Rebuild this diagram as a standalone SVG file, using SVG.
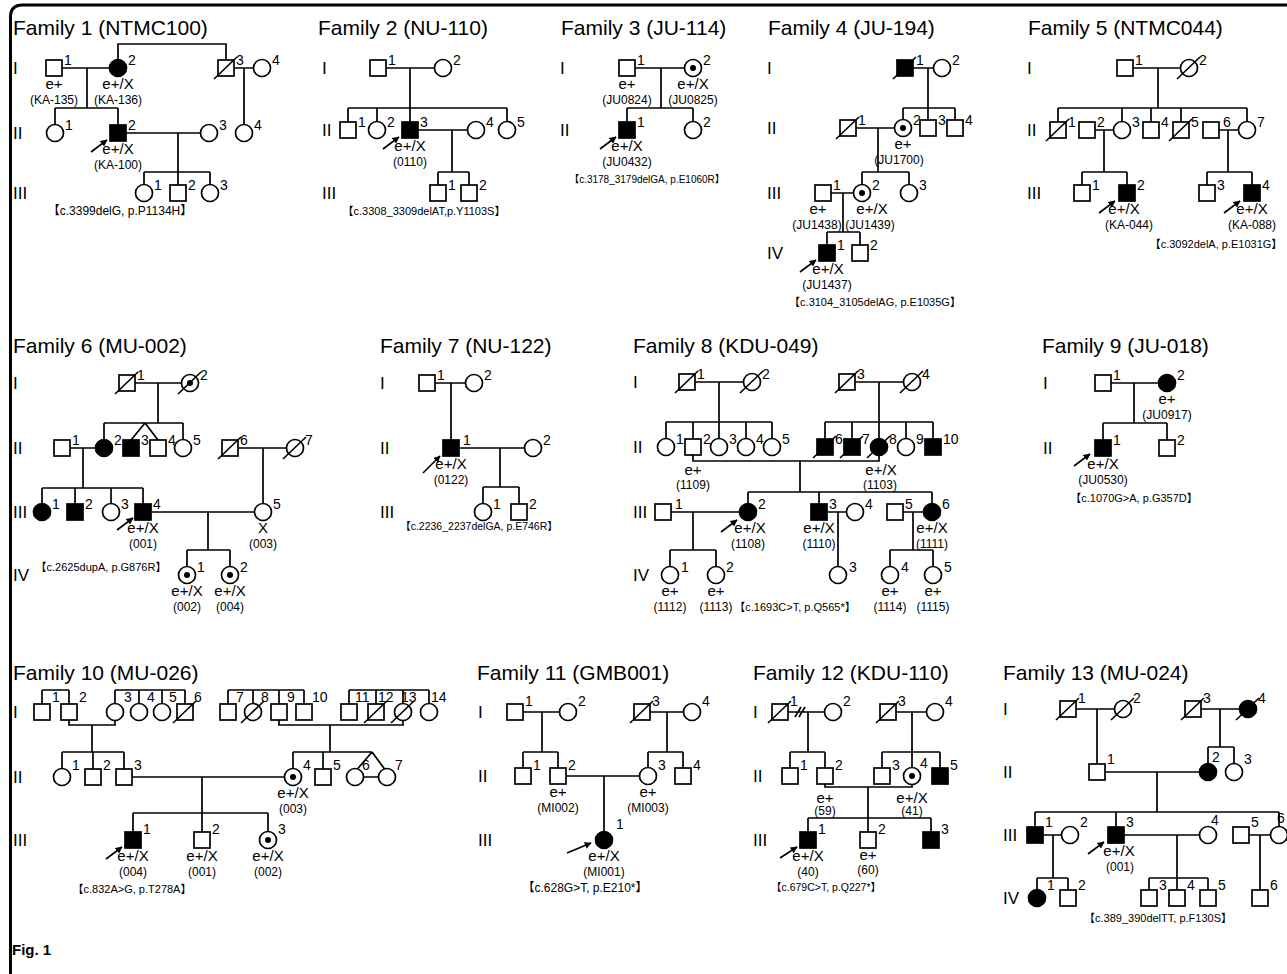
<svg xmlns="http://www.w3.org/2000/svg" xmlns:xlink="http://www.w3.org/1999/xlink" width="1287" height="974" viewBox="0 0 1287 974">
<style>
.o{fill:#fff;stroke:#000;stroke-width:1.7}
.a{fill:#000;stroke:#000;stroke-width:1.7}
.ln{fill:none;stroke:#000;stroke-width:1.7}
.ar{fill:none;stroke:#000;stroke-width:1.6;marker-end:url(#ah)}
text{font-family:"Liberation Sans",Arial,sans-serif;fill:#000}
.ti{font-size:21px}
.g{font-size:17px}
.n{font-size:14px}
.l{font-size:15px;text-anchor:middle}
.id{font-size:12px;text-anchor:middle}
.mu{font-size:11px;text-anchor:middle;font-family:"Liberation Sans","Noto Sans CJK SC",sans-serif}
.fig{font-size:15px;font-weight:bold}
</style>
<defs>
<rect id="sq" x="-8" y="-8" width="16" height="16"/>
<circle id="ci" r="8.5"/>
<g id="cc"><circle r="8.5" fill="#fff" stroke="#000" stroke-width="1.7"/><circle r="3" fill="#000"/></g>
<line id="dz" x1="-12" y1="11" x2="11" y2="-11" stroke="#000" stroke-width="1.6"/>
<marker id="ah" viewBox="0 0 10 10" refX="9" refY="5" markerWidth="7" markerHeight="7" markerUnits="userSpaceOnUse" orient="auto"><path d="M0,0 L10,5 L0,10 z" fill="#000"/></marker>
</defs>
<rect width="1287" height="974" fill="#fff"/>
<path d="M10.5 974 V17 Q10.5 5 22.5 5 H1287" fill="none" stroke="#000" stroke-width="3"/>

<g id="connectors" class="ln">
<g id="f1-lines"><path d="M62 68H109.5M87 68V108M55 108H118M55 108V124.5M118 108V125M118 59.5V44H226V60M234 68H253.5M244 68V124.5M126 133H200.5M178 133V172M144 172H210M144 172V184.5M178 172V185M210 172V184.5"/></g>
<g id="f2-lines"><path d="M386 68H434.5M410 68V108M348 108H507M348 108V122M377 108V121.5M410 108V122M507 108V121.5M418 130H467.5M452 130V172M438 172H469M438 172V185M469 172V185"/></g>
<g id="f3-lines"><path d="M635 68H684.5M661 68V108M627 108H693M627 108V122M693 108V121.5"/></g>
<g id="f4-lines"><path d="M913 68H933.5M928 68V108M903 108H955M903 108V119.5M928 108V120M955 108V120M856 128H894.5M878 128V172M862 172H909M862 172V184.5M909 172V184.5M831 193H853.5M843 193V232M827 232H860M827 232V245M860 232V245"/></g>
<g id="f5-lines"><path d="M1133 68H1180.5M1158 68V108M1058 108H1247M1058 108V122M1122 108V121.5M1151 108V122M1181 108V122M1247 108V121.5M1095 130H1113.5M1104 130V172M1082 172H1127M1082 172V185M1127 172V185M1219 130H1238.5M1228 130V172M1207 172H1252M1207 172V185M1252 172V185"/></g>
<g id="f6-lines"><path d="M135 383H181.5M158 383V423M104 423H183M104 423V439.5M183 423V439.5M145 423L131 440M145 423L158 440M70 448H95.5M83 448V488M42 488H143M42 488V503.5M75 488V504M111 488V503.5M143 488V504M238 448H286.5M263 448V503.5M151 512H254.5M208 512V550M187 550H230M187 550V566.5M230 550V566.5"/></g>
<g id="f7-lines"><path d="M435 383H465.5M451 383V440M459 448H524.5M500 448V487M483 487H519M483 487V503.5M519 487V504"/></g>
<g id="f8-lines"><path d="M695 382H743.5M719 382V422M666 422H772M666 422V438.5M693 422V439M719 422V438.5M746 422V438.5M772 422V438.5M855 382H903.5M879 382V422M825 422H933M825 422V439M852 422V439M879 422V438.5M906 422V438.5M933 422V439M693 455V461H879V455.5M800 461V492M748 492H932M748 492V503.5M819 492V504M932 492V503.5M671 512H739.5M693 512V550M670 550H716M670 550V566.5M716 550V566.5M827 512H846.5M838 512V566.5M903 512H923.5M913 512V550M890 550H933M890 550V566.5M933 550V566.5"/></g>
<g id="f9-lines"><path d="M1111 383H1158.5M1134 383V423M1103 423H1167M1103 423V440M1167 423V440"/></g>
<g id="f10-lines"><path d="M42 690H69M42 690V704M69 690V704M115 690H185M115 690V703.5M139 690V703.5M162 690V703.5M185 690V704M228 690H304M228 690V704M253 690V703.5M279 690V704M304 690V704M349 690H429M349 690V704M376 690V704M403 690V703.5M429 690V703.5M69 720V725H115V720.5M92 725V752M279 720V725H403V720.5M330 725V752M62 752H124M62 752V768.5M93 752V769M124 752V769M293 752H372M293 752V768.5M323 752V769M372 752L357 769.5M372 752L385 769.5M363.5 777H378.5M132 777H284.5M202 777V813M133 813H268M133 813V832M202 813V832M268 813V831.5"/></g>
<g id="f11-lines"><path d="M523 712H559.5M542 712V752M523 752H558M523 752V768M558 752V768M650 712H683.5M667 712V752M648 752H683M648 752V767.5M683 752V768M566 776H639.5M604 776V831.5"/></g>
<g id="f12-lines"><path d="M788 712H824.5M795 717L801 707M799 717L805 707M808 712V752M790 752H825M790 752V768M825 752V768M896 712H926.5M912 712V752M882 752H940M882 752V768M912 752V767.5M940 752V768M825 784V787H912V784.5M868 787V818M808 818H931M808 818V832M868 818V832M931 818V832"/></g>
<g id="f13-lines"><path d="M1076 709H1114.5M1097 709V764M1201 709H1239.5M1220 709V747M1208 747H1234M1208 747V763.5M1234 747V763.5M1105 772H1199.5M1157 772V812M1035 812H1279M1035 812V827M1116 812V827M1279 812V826.5M1043 835H1061.5M1053 835V878M1037 878H1068M1037 878V889.5M1068 878V890M1124 835H1199.5M1177 835V878M1149 878H1208M1149 878V890M1177 878V890M1208 878V890M1249 835H1270.5M1260 835V890"/></g>
</g>

<g id="family1">
<text class="ti" x="13" y="35">Family 1 (NTMC100)</text>
<text class="g" x="13" y="74">I</text><text class="g" x="13" y="139">II</text><text class="g" x="13" y="199">III</text>
<g id="f1-I1"><use href="#sq" class="o" x="54" y="68"/><text class="n" x="64" y="65">1</text><text class="l" x="54" y="89">e+</text><text class="id" x="54" y="104">(KA-135)</text></g>
<g id="f1-I2"><use href="#ci" class="a" x="118" y="68"/><text class="n" x="128" y="65">2</text><text class="l" x="118" y="89">e+/X</text><text class="id" x="118" y="104">(KA-136)</text></g>
<g id="f1-I3"><use href="#sq" class="o" x="226" y="68"/><use href="#dz" x="226" y="68"/><text class="n" x="236" y="65">3</text></g>
<g id="f1-I4"><use href="#ci" class="o" x="262" y="68"/><text class="n" x="272" y="65">4</text></g>
<g id="f1-II1"><use href="#ci" class="o" x="55" y="133"/><text class="n" x="65" y="130">1</text></g>
<g id="f1-II2"><use href="#sq" class="a" x="118" y="133"/><text class="n" x="128" y="130">2</text><path class="ar" d="M91 152L107 140"/><text class="l" x="118" y="154">e+/X</text><text class="id" x="118" y="169">(KA-100)</text></g>
<g id="f1-II3"><use href="#ci" class="o" x="209" y="133"/><text class="n" x="219" y="130">3</text></g>
<g id="f1-II4"><use href="#ci" class="o" x="244" y="133"/><text class="n" x="254" y="130">4</text></g>
<g id="f1-III1"><use href="#ci" class="o" x="144" y="193"/><text class="n" x="154" y="190">1</text></g>
<g id="f1-III2"><use href="#sq" class="o" x="178" y="193"/><text class="n" x="188" y="190">2</text></g>
<g id="f1-III3"><use href="#ci" class="o" x="210" y="193"/><text class="n" x="220" y="190">3</text></g>
<text class="mu" style="font-size:12px" x="120" y="215">【c.3399delG, p.P1134H】</text>
</g>

<g id="family2">
<text class="ti" x="318" y="35">Family 2 (NU-110)</text>
<text class="g" x="322" y="74">I</text><text class="g" x="322" y="136">II</text><text class="g" x="322" y="199">III</text>
<g id="f2-I1"><use href="#sq" class="o" x="378" y="68"/><text class="n" x="388" y="65">1</text></g>
<g id="f2-I2"><use href="#ci" class="o" x="443" y="68"/><text class="n" x="453" y="65">2</text></g>
<g id="f2-II1"><use href="#sq" class="o" x="348" y="130"/><text class="n" x="358" y="127">1</text></g>
<g id="f2-II2"><use href="#ci" class="o" x="377" y="130"/><text class="n" x="387" y="127">2</text></g>
<g id="f2-II3"><use href="#sq" class="a" x="410" y="130"/><text class="n" x="420" y="127">3</text><path class="ar" d="M383 149L399 137"/><text class="l" x="410" y="151">e+/X</text><text class="id" x="410" y="166">(0110)</text></g>
<g id="f2-II4"><use href="#ci" class="o" x="476" y="130"/><text class="n" x="486" y="127">4</text></g>
<g id="f2-II5"><use href="#ci" class="o" x="507" y="130"/><text class="n" x="517" y="127">5</text></g>
<g id="f2-III1"><use href="#sq" class="o" x="438" y="193"/><text class="n" x="448" y="190">1</text></g>
<g id="f2-III2"><use href="#sq" class="o" x="469" y="193"/><text class="n" x="479" y="190">2</text></g>
<text class="mu" x="424" y="215">【c.3308_3309delAT,p.Y1103S】</text>
</g>

<g id="family3">
<text class="ti" x="561" y="35">Family 3 (JU-114)</text>
<text class="g" x="560" y="74">I</text><text class="g" x="560" y="136">II</text>
<g id="f3-I1"><use href="#sq" class="o" x="627" y="68"/><text class="n" x="637" y="65">1</text><text class="l" x="627" y="89">e+</text><text class="id" x="627" y="104">(JU0824)</text></g>
<g id="f3-I2"><use href="#cc" x="693" y="68"/><text class="n" x="703" y="65">2</text><text class="l" x="693" y="89">e+/X</text><text class="id" x="693" y="104">(JU0825)</text></g>
<g id="f3-II1"><use href="#sq" class="a" x="627" y="130"/><text class="n" x="637" y="127">1</text><path class="ar" d="M600 149L616 137"/><text class="l" x="627" y="151">e+/X</text><text class="id" x="627" y="166">(JU0432)</text></g>
<g id="f3-II2"><use href="#ci" class="o" x="693" y="130"/><text class="n" x="703" y="127">2</text></g>
<text class="mu" style="font-size:10px" x="647" y="183">【c.3178_3179delGA, p.E1060R】</text>
</g>

<g id="family4">
<text class="ti" x="768" y="35">Family 4 (JU-194)</text>
<text class="g" x="767" y="74">I</text><text class="g" x="767" y="134">II</text><text class="g" x="767" y="199">III</text><text class="g" x="767" y="259">IV</text>
<g id="f4-I1"><use href="#sq" class="a" x="905" y="68"/><use href="#dz" x="905" y="68"/><text class="n" x="916" y="65">1</text></g>
<g id="f4-I2"><use href="#ci" class="o" x="942" y="68"/><text class="n" x="952" y="65">2</text></g>
<g id="f4-II1"><use href="#sq" class="o" x="848" y="128"/><use href="#dz" x="848" y="128"/><text class="n" x="858" y="125">1</text></g>
<g id="f4-II2"><use href="#cc" x="903" y="128"/><text class="n" x="913" y="125">2</text><text class="l" x="903" y="149">e+</text><text class="id" x="899" y="164">(JU1700)</text></g>
<g id="f4-II3"><use href="#sq" class="o" x="928" y="128"/><text class="n" x="938" y="125">3</text></g>
<g id="f4-II4"><use href="#sq" class="o" x="955" y="128"/><text class="n" x="965" y="125">4</text></g>
<g id="f4-III1"><use href="#sq" class="o" x="823" y="193"/><text class="n" x="833" y="190">1</text><text class="l" x="818" y="214">e+</text><text class="id" x="817" y="229">(JU1438)</text></g>
<g id="f4-III2"><use href="#cc" x="862" y="193"/><text class="n" x="872" y="190">2</text><text class="l" x="872" y="214">e+/X</text><text class="id" x="870" y="229">(JU1439)</text></g>
<g id="f4-III3"><use href="#ci" class="o" x="909" y="193"/><text class="n" x="919" y="190">3</text></g>
<g id="f4-IV1"><use href="#sq" class="a" x="827" y="253"/><text class="n" x="837" y="250">1</text><path class="ar" d="M800 272L816 260"/><text class="l" x="828" y="274">e+/X</text><text class="id" x="827" y="289">(JU1437)</text></g>
<g id="f4-IV2"><use href="#sq" class="o" x="860" y="253"/><text class="n" x="870" y="250">2</text></g>
<text class="mu" x="875" y="306">【c.3104_3105delAG, p.E1035G】</text>
</g>

<g id="family5">
<text class="ti" x="1028" y="35">Family 5 (NTMC044)</text>
<text class="g" x="1027" y="74">I</text><text class="g" x="1027" y="136">II</text><text class="g" x="1027" y="199">III</text>
<g id="f5-I1"><use href="#sq" class="o" x="1125" y="68"/><text class="n" x="1135" y="65">1</text></g>
<g id="f5-I2"><use href="#ci" class="o" x="1189" y="68"/><use href="#dz" x="1189" y="68"/><text class="n" x="1199" y="65">2</text></g>
<g id="f5-II1"><use href="#sq" class="o" x="1058" y="130"/><use href="#dz" x="1058" y="130"/><text class="n" x="1068" y="127">1</text></g>
<g id="f5-II2"><use href="#sq" class="o" x="1087" y="130"/><text class="n" x="1097" y="127">2</text></g>
<g id="f5-II3"><use href="#ci" class="o" x="1122" y="130"/><text class="n" x="1132" y="127">3</text></g>
<g id="f5-II4"><use href="#sq" class="o" x="1151" y="130"/><text class="n" x="1161" y="127">4</text></g>
<g id="f5-II5"><use href="#sq" class="o" x="1181" y="130"/><use href="#dz" x="1181" y="130"/><text class="n" x="1191" y="127">5</text></g>
<g id="f5-II6"><use href="#sq" class="o" x="1211" y="130"/><text class="n" x="1223" y="127">6</text></g>
<g id="f5-II7"><use href="#ci" class="o" x="1247" y="130"/><text class="n" x="1257" y="127">7</text></g>
<g id="f5-III1"><use href="#sq" class="o" x="1082" y="193"/><text class="n" x="1092" y="190">1</text></g>
<g id="f5-III2"><use href="#sq" class="a" x="1127" y="193"/><text class="n" x="1137" y="190">2</text><path class="ar" d="M1099 213L1115 201"/><text class="l" x="1124" y="214">e+/X</text><text class="id" x="1129" y="229">(KA-044)</text></g>
<g id="f5-III3"><use href="#sq" class="o" x="1207" y="193"/><text class="n" x="1217" y="190">3</text></g>
<g id="f5-III4"><use href="#sq" class="a" x="1252" y="193"/><text class="n" x="1262" y="190">4</text><path class="ar" d="M1224 213L1240 201"/><text class="l" x="1252" y="214">e+/X</text><text class="id" x="1252" y="229">(KA-088)</text></g>
<text class="mu" x="1216" y="248">【c.3092delA, p.E1031G】</text>
</g>

<g id="family6">
<text class="ti" x="13" y="353">Family 6 (MU-002)</text>
<text class="g" x="13" y="389">I</text><text class="g" x="13" y="454">II</text><text class="g" x="13" y="518">III</text><text class="g" x="13" y="581">IV</text>
<g id="f6-I1"><use href="#sq" class="o" x="127" y="383"/><use href="#dz" x="127" y="383"/><text class="n" x="137" y="380">1</text></g>
<g id="f6-I2"><use href="#cc" x="190" y="383"/><use href="#dz" x="190" y="383"/><text class="n" x="200" y="380">2</text></g>
<g id="f6-II1"><use href="#sq" class="o" x="62" y="448"/><text class="n" x="72" y="445">1</text></g>
<g id="f6-II2"><use href="#ci" class="a" x="104" y="448"/><text class="n" x="114" y="445">2</text></g>
<g id="f6-II3"><use href="#sq" class="a" x="131" y="448"/><text class="n" x="141" y="445">3</text></g>
<g id="f6-II4"><use href="#sq" class="o" x="158" y="448"/><text class="n" x="168" y="445">4</text></g>
<g id="f6-II5"><use href="#ci" class="o" x="183" y="448"/><text class="n" x="193" y="445">5</text></g>
<g id="f6-II6"><use href="#sq" class="o" x="230" y="448"/><use href="#dz" x="230" y="448"/><text class="n" x="240" y="445">6</text></g>
<g id="f6-II7"><use href="#ci" class="o" x="295" y="448"/><use href="#dz" x="295" y="448"/><text class="n" x="305" y="445">7</text></g>
<g id="f6-III1"><use href="#ci" class="a" x="42" y="512"/><text class="n" x="52" y="509">1</text></g>
<g id="f6-III2"><use href="#sq" class="a" x="75" y="512"/><text class="n" x="85" y="509">2</text></g>
<g id="f6-III3"><use href="#ci" class="o" x="111" y="512"/><text class="n" x="121" y="509">3</text></g>
<g id="f6-III4"><use href="#sq" class="a" x="143" y="512"/><text class="n" x="153" y="509">4</text><path class="ar" d="M117 530L133 518"/><text class="l" x="143" y="533">e+/X</text><text class="id" x="143" y="548">(001)</text></g>
<g id="f6-III5"><use href="#ci" class="o" x="263" y="512"/><text class="n" x="273" y="509">5</text><text class="l" x="263" y="533">X</text><text class="id" x="263" y="548">(003)</text></g>
<g id="f6-IV1"><use href="#cc" x="187" y="575"/><text class="n" x="197" y="572">1</text><text class="l" x="187" y="596">e+/X</text><text class="id" x="187" y="611">(002)</text></g>
<g id="f6-IV2"><use href="#cc" x="230" y="575"/><text class="n" x="240" y="572">2</text><text class="l" x="230" y="596">e+/X</text><text class="id" x="230" y="611">(004)</text></g>
<text class="mu" x="101" y="571">【c.2625dupA, p.G876R】</text>
</g>

<g id="family7">
<text class="ti" x="380" y="353">Family 7 (NU-122)</text>
<text class="g" x="380" y="389">I</text><text class="g" x="380" y="454">II</text><text class="g" x="380" y="518">III</text>
<g id="f7-I1"><use href="#sq" class="o" x="427" y="383"/><text class="n" x="437" y="380">1</text></g>
<g id="f7-I2"><use href="#ci" class="o" x="474" y="383"/><text class="n" x="484" y="380">2</text></g>
<g id="f7-II1"><use href="#sq" class="a" x="451" y="448"/><text class="n" x="463" y="445">1</text><path class="ar" d="M423 473L440 456"/><text class="l" x="451" y="469">e+/X</text><text class="id" x="451" y="484">(0122)</text></g>
<g id="f7-II2"><use href="#ci" class="o" x="533" y="448"/><text class="n" x="543" y="445">2</text></g>
<g id="f7-III1"><use href="#ci" class="o" x="483" y="512"/><text class="n" x="493" y="509">1</text></g>
<g id="f7-III2"><use href="#sq" class="o" x="519" y="512"/><text class="n" x="529" y="509">2</text></g>
<text class="mu" style="font-size:10.5px" x="479" y="530">【c.2236_2237delGA, p.E746R】</text>
</g>

<g id="family8">
<text class="ti" x="633" y="353">Family 8 (KDU-049)</text>
<text class="g" x="633" y="388">I</text><text class="g" x="633" y="453">II</text><text class="g" x="633" y="518">III</text><text class="g" x="633" y="581">IV</text>
<g id="f8-I1"><use href="#sq" class="o" x="687" y="382"/><use href="#dz" x="687" y="382"/><text class="n" x="697" y="379">1</text></g>
<g id="f8-I2"><use href="#ci" class="o" x="752" y="382"/><use href="#dz" x="752" y="382"/><text class="n" x="762" y="379">2</text></g>
<g id="f8-I3"><use href="#sq" class="o" x="847" y="382"/><use href="#dz" x="847" y="382"/><text class="n" x="857" y="379">3</text></g>
<g id="f8-I4"><use href="#ci" class="o" x="912" y="382"/><use href="#dz" x="912" y="382"/><text class="n" x="922" y="379">4</text></g>
<g id="f8-II1"><use href="#ci" class="o" x="666" y="447"/><text class="n" x="676" y="444">1</text></g>
<g id="f8-II2"><use href="#sq" class="o" x="693" y="447"/><text class="n" x="703" y="444">2</text><text class="l" x="693" y="475">e+</text><text class="id" x="693" y="489">(1109)</text></g>
<g id="f8-II3"><use href="#ci" class="o" x="719" y="447"/><text class="n" x="729" y="444">3</text></g>
<g id="f8-II4"><use href="#ci" class="o" x="746" y="447"/><text class="n" x="756" y="444">4</text></g>
<g id="f8-II5"><use href="#ci" class="o" x="772" y="447"/><text class="n" x="782" y="444">5</text></g>
<g id="f8-II6"><use href="#sq" class="a" x="825" y="447"/><use href="#dz" x="825" y="447"/><text class="n" x="835" y="444">6</text></g>
<g id="f8-II7"><use href="#sq" class="a" x="852" y="447"/><use href="#dz" x="852" y="447"/><text class="n" x="862" y="444">7</text></g>
<g id="f8-II8"><use href="#ci" class="a" x="879" y="447"/><use href="#dz" x="879" y="447"/><text class="n" x="889" y="444">8</text><text class="l" x="881" y="475">e+/X</text><text class="id" x="880" y="489">(1103)</text></g>
<g id="f8-II9"><use href="#ci" class="o" x="906" y="447"/><text class="n" x="916" y="444">9</text></g>
<g id="f8-II10"><use href="#sq" class="a" x="933" y="447"/><text class="n" x="943" y="444">10</text></g>
<g id="f8-III1"><use href="#sq" class="o" x="663" y="512"/><text class="n" x="675" y="509">1</text></g>
<g id="f8-III2"><use href="#ci" class="a" x="748" y="512"/><text class="n" x="758" y="509">2</text><path class="ar" d="M721 532L737 520"/><text class="l" x="750" y="533">e+/X</text><text class="id" x="748" y="548">(1108)</text></g>
<g id="f8-III3"><use href="#sq" class="a" x="819" y="512"/><text class="n" x="829" y="509">3</text><text class="l" x="819" y="533">e+/X</text><text class="id" x="819" y="548">(1110)</text></g>
<g id="f8-III4"><use href="#ci" class="o" x="855" y="512"/><text class="n" x="865" y="509">4</text></g>
<g id="f8-III5"><use href="#sq" class="o" x="895" y="512"/><text class="n" x="905" y="509">5</text></g>
<g id="f8-III6"><use href="#ci" class="a" x="932" y="512"/><text class="n" x="942" y="509">6</text><text class="l" x="932" y="533">e+/X</text><text class="id" x="932" y="548">(1111)</text></g>
<g id="f8-IV1"><use href="#ci" class="o" x="670" y="575"/><text class="n" x="681" y="572">1</text><text class="l" x="670" y="596">e+</text><text class="id" x="670" y="611">(1112)</text></g>
<g id="f8-IV2"><use href="#ci" class="o" x="716" y="575"/><text class="n" x="726" y="572">2</text><text class="l" x="716" y="596">e+</text><text class="id" x="716" y="611">(1113)</text></g>
<g id="f8-IV3"><use href="#ci" class="o" x="838" y="575"/><text class="n" x="849" y="572">3</text></g>
<g id="f8-IV4"><use href="#ci" class="o" x="890" y="575"/><text class="n" x="901" y="572">4</text><text class="l" x="890" y="596">e+</text><text class="id" x="890" y="611">(1114)</text></g>
<g id="f8-IV5"><use href="#ci" class="o" x="933" y="575"/><text class="n" x="944" y="572">5</text><text class="l" x="933" y="596">e+</text><text class="id" x="933" y="611">(1115)</text></g>
<text class="mu" x="795" y="611">【c.1693C&gt;T, p.Q565*】</text>
</g>

<g id="family9">
<text class="ti" x="1042" y="353">Family 9 (JU-018)</text>
<text class="g" x="1043" y="389">I</text><text class="g" x="1043" y="454">II</text>
<g id="f9-I1"><use href="#sq" class="o" x="1103" y="383"/><text class="n" x="1113" y="380">1</text></g>
<g id="f9-I2"><use href="#ci" class="a" x="1167" y="383"/><text class="n" x="1177" y="380">2</text><text class="l" x="1167" y="404">e+</text><text class="id" x="1167" y="419">(JU0917)</text></g>
<g id="f9-II1"><use href="#sq" class="a" x="1103" y="448"/><text class="n" x="1113" y="445">1</text><path class="ar" d="M1074 466L1090 454"/><text class="l" x="1103" y="469">e+/X</text><text class="id" x="1103" y="484">(JU0530)</text></g>
<g id="f9-II2"><use href="#sq" class="o" x="1167" y="448"/><text class="n" x="1177" y="445">2</text></g>
<text class="mu" x="1134" y="502">【c.1070G&gt;A, p.G357D】</text>
</g>

<g id="family10">
<text class="ti" x="13" y="680">Family 10 (MU-026)</text>
<text class="g" x="13" y="718">I</text><text class="g" x="13" y="783">II</text><text class="g" x="13" y="846">III</text>
<g id="f10-I1"><use href="#sq" class="o" x="42" y="712"/><text class="n" x="52" y="702">1</text></g>
<g id="f10-I2"><use href="#sq" class="o" x="69" y="712"/><text class="n" x="79" y="702">2</text></g>
<g id="f10-I3"><use href="#ci" class="o" x="115" y="712"/><text class="n" x="124" y="702">3</text></g>
<g id="f10-I4"><use href="#ci" class="o" x="139" y="712"/><text class="n" x="147" y="702">4</text></g>
<g id="f10-I5"><use href="#ci" class="o" x="162" y="712"/><text class="n" x="169" y="702">5</text></g>
<g id="f10-I6"><use href="#sq" class="o" x="185" y="712"/><use href="#dz" x="185" y="712"/><text class="n" x="194" y="702">6</text></g>
<g id="f10-I7"><use href="#sq" class="o" x="228" y="712"/><text class="n" x="236" y="702">7</text></g>
<g id="f10-I8"><use href="#ci" class="o" x="253" y="712"/><use href="#dz" x="253" y="712"/><text class="n" x="261" y="702">8</text></g>
<g id="f10-I9"><use href="#sq" class="o" x="279" y="712"/><text class="n" x="287" y="702">9</text></g>
<g id="f10-I10"><use href="#sq" class="o" x="304" y="712"/><text class="n" x="312" y="702">10</text></g>
<g id="f10-I11"><use href="#sq" class="o" x="349" y="712"/><text class="n" x="355" y="702">11</text></g>
<g id="f10-I12"><use href="#sq" class="o" x="376" y="712"/><use href="#dz" x="376" y="712"/><text class="n" x="378" y="702">12</text></g>
<g id="f10-I13"><use href="#ci" class="o" x="403" y="712"/><use href="#dz" x="403" y="712"/><text class="n" x="401" y="702">13</text></g>
<g id="f10-I14"><use href="#ci" class="o" x="429" y="712"/><text class="n" x="431" y="702">14</text></g>
<g id="f10-II1"><use href="#ci" class="o" x="62" y="777"/><text class="n" x="72" y="770">1</text></g>
<g id="f10-II2"><use href="#sq" class="o" x="93" y="777"/><text class="n" x="103" y="770">2</text></g>
<g id="f10-II3"><use href="#sq" class="o" x="124" y="777"/><text class="n" x="134" y="770">3</text></g>
<g id="f10-II4"><use href="#cc" x="293" y="777"/><text class="n" x="303" y="770">4</text><text class="l" x="293" y="798">e+/X</text><text class="id" x="293" y="813">(003)</text></g>
<g id="f10-II5"><use href="#sq" class="o" x="323" y="777"/><text class="n" x="333" y="770">5</text></g>
<g id="f10-II6"><use href="#ci" class="o" x="355" y="777"/><text class="n" x="362" y="770">6</text></g>
<g id="f10-II7"><use href="#ci" class="o" x="387" y="777"/><text class="n" x="395" y="770">7</text></g>
<g id="f10-III1"><use href="#sq" class="a" x="133" y="840"/><text class="n" x="143" y="834">1</text><path class="ar" d="M106 859L122 847"/><text class="l" x="133" y="861">e+/X</text><text class="id" x="133" y="876">(004)</text></g>
<g id="f10-III2"><use href="#sq" class="o" x="202" y="840"/><text class="n" x="212" y="834">2</text><text class="l" x="202" y="861">e+/X</text><text class="id" x="202" y="876">(001)</text></g>
<g id="f10-III3"><use href="#cc" x="268" y="840"/><text class="n" x="278" y="834">3</text><text class="l" x="268" y="861">e+/X</text><text class="id" x="268" y="876">(002)</text></g>
<text class="mu" x="132" y="893">【c.832A&gt;G, p.T278A】</text>
</g>

<g id="family11">
<text class="ti" x="477" y="680">Family 11 (GMB001)</text>
<text class="g" x="478" y="718">I</text><text class="g" x="478" y="782">II</text><text class="g" x="478" y="846">III</text>
<g id="f11-I1"><use href="#sq" class="o" x="515" y="712"/><text class="n" x="525" y="706">1</text></g>
<g id="f11-I2"><use href="#ci" class="o" x="568" y="712"/><text class="n" x="578" y="706">2</text></g>
<g id="f11-I3"><use href="#sq" class="o" x="642" y="712"/><use href="#dz" x="642" y="712"/><text class="n" x="652" y="706">3</text></g>
<g id="f11-I4"><use href="#ci" class="o" x="692" y="712"/><text class="n" x="702" y="706">4</text></g>
<g id="f11-II1"><use href="#sq" class="o" x="523" y="776"/><text class="n" x="533" y="770">1</text></g>
<g id="f11-II2"><use href="#sq" class="o" x="558" y="776"/><text class="n" x="568" y="770">2</text><text class="l" x="558" y="797">e+</text><text class="id" x="558" y="812">(MI002)</text></g>
<g id="f11-II3"><use href="#ci" class="o" x="648" y="776"/><text class="n" x="658" y="770">3</text><text class="l" x="648" y="797">e+</text><text class="id" x="648" y="812">(MI003)</text></g>
<g id="f11-II4"><use href="#sq" class="o" x="683" y="776"/><text class="n" x="693" y="770">4</text></g>
<g id="f11-III1"><use href="#ci" class="a" x="604" y="840"/><text class="n" x="616" y="829">1</text><path class="ar" d="M567 853L591 843"/><text class="l" x="604" y="861">e+/X</text><text class="id" x="604" y="876">(MI001)</text></g>
<text class="mu" style="font-size:12px" x="585" y="892">【c.628G&gt;T, p.E210*】</text>
</g>

<g id="family12">
<text class="ti" x="753" y="680">Family 12 (KDU-110)</text>
<text class="g" x="753" y="718">I</text><text class="g" x="753" y="782">II</text><text class="g" x="753" y="846">III</text>
<g id="f12-I1"><use href="#sq" class="o" x="780" y="712"/><use href="#dz" x="780" y="712"/><text class="n" x="790" y="706">1</text></g>
<g id="f12-I2"><use href="#ci" class="o" x="833" y="712"/><text class="n" x="843" y="706">2</text></g>
<g id="f12-I3"><use href="#sq" class="o" x="888" y="712"/><use href="#dz" x="888" y="712"/><text class="n" x="898" y="706">3</text></g>
<g id="f12-I4"><use href="#ci" class="o" x="935" y="712"/><text class="n" x="945" y="706">4</text></g>
<g id="f12-II1"><use href="#sq" class="o" x="790" y="776"/><text class="n" x="800" y="770">1</text></g>
<g id="f12-II2"><use href="#sq" class="o" x="825" y="776"/><text class="n" x="835" y="770">2</text><text class="l" x="825" y="803">e+</text><text class="id" x="825" y="815">(59)</text></g>
<g id="f12-II3"><use href="#sq" class="o" x="882" y="776"/><text class="n" x="892" y="770">3</text></g>
<g id="f12-II4"><use href="#cc" x="912" y="776"/><text class="n" x="920" y="768">4</text><text class="l" x="912" y="803">e+/X</text><text class="id" x="912" y="815">(41)</text></g>
<g id="f12-II5"><use href="#sq" class="a" x="940" y="776"/><text class="n" x="950" y="770">5</text></g>
<g id="f12-III1"><use href="#sq" class="a" x="808" y="840"/><text class="n" x="818" y="834">1</text><path class="ar" d="M780 858L797 847"/><text class="l" x="808" y="861">e+/X</text><text class="id" x="808" y="876">(40)</text></g>
<g id="f12-III2"><use href="#sq" class="o" x="868" y="840"/><text class="n" x="878" y="834">2</text><text class="l" x="868" y="860">e+</text><text class="id" x="868" y="874">(60)</text></g>
<g id="f12-III3"><use href="#sq" class="a" x="931" y="840"/><text class="n" x="941" y="834">3</text></g>
<text class="mu" style="font-size:10.5px" x="826" y="891">【c.679C&gt;T, p.Q227*】</text>
</g>

<g id="family13">
<text class="ti" x="1003" y="680">Family 13 (MU-024)</text>
<text class="g" x="1003" y="715">I</text><text class="g" x="1003" y="778">II</text><text class="g" x="1003" y="841">III</text><text class="g" x="1003" y="904">IV</text>
<g id="f13-I1"><use href="#sq" class="o" x="1068" y="709"/><use href="#dz" x="1068" y="709"/><text class="n" x="1078" y="703">1</text></g>
<g id="f13-I2"><use href="#ci" class="o" x="1123" y="709"/><use href="#dz" x="1123" y="709"/><text class="n" x="1133" y="703">2</text></g>
<g id="f13-I3"><use href="#sq" class="o" x="1193" y="709"/><use href="#dz" x="1193" y="709"/><text class="n" x="1203" y="703">3</text></g>
<g id="f13-I4"><use href="#ci" class="a" x="1248" y="709"/><use href="#dz" x="1248" y="709"/><text class="n" x="1258" y="703">4</text></g>
<g id="f13-II1"><use href="#sq" class="o" x="1097" y="772"/><text class="n" x="1107" y="764">1</text></g>
<g id="f13-II2"><use href="#ci" class="a" x="1208" y="772"/><text class="n" x="1212" y="762">2</text></g>
<g id="f13-II3"><use href="#ci" class="o" x="1234" y="772"/><text class="n" x="1244" y="764">3</text></g>
<g id="f13-III1"><use href="#sq" class="a" x="1035" y="835"/><text class="n" x="1045" y="827">1</text></g>
<g id="f13-III2"><use href="#ci" class="o" x="1070" y="835"/><text class="n" x="1080" y="827">2</text></g>
<g id="f13-III3"><use href="#sq" class="a" x="1116" y="835"/><text class="n" x="1126" y="827">3</text><path class="ar" d="M1088 854L1104 842"/><text class="l" x="1119" y="856">e+/X</text><text class="id" x="1120" y="871">(001)</text></g>
<g id="f13-III4"><use href="#ci" class="o" x="1208" y="835"/><text class="n" x="1211" y="825">4</text></g>
<g id="f13-III5"><use href="#sq" class="o" x="1241" y="835"/><text class="n" x="1251" y="827">5</text></g>
<g id="f13-III6"><use href="#ci" class="o" x="1279" y="835"/><text class="n" x="1277" y="823">6</text></g>
<g id="f13-IV1"><use href="#ci" class="a" x="1037" y="898"/><text class="n" x="1047" y="890">1</text></g>
<g id="f13-IV2"><use href="#sq" class="o" x="1068" y="898"/><text class="n" x="1078" y="890">2</text></g>
<g id="f13-IV3"><use href="#sq" class="o" x="1149" y="898"/><text class="n" x="1159" y="890">3</text></g>
<g id="f13-IV4"><use href="#sq" class="o" x="1177" y="898"/><text class="n" x="1187" y="890">4</text></g>
<g id="f13-IV5"><use href="#sq" class="o" x="1208" y="898"/><text class="n" x="1218" y="890">5</text></g>
<g id="f13-IV6"><use href="#sq" class="o" x="1260" y="898"/><text class="n" x="1270" y="890">6</text></g>
<text class="mu" x="1158" y="922">【c.389_390delTT, p.F130S】</text>
</g>

<text class="fig" x="12" y="955">Fig. 1</text>
</svg>
